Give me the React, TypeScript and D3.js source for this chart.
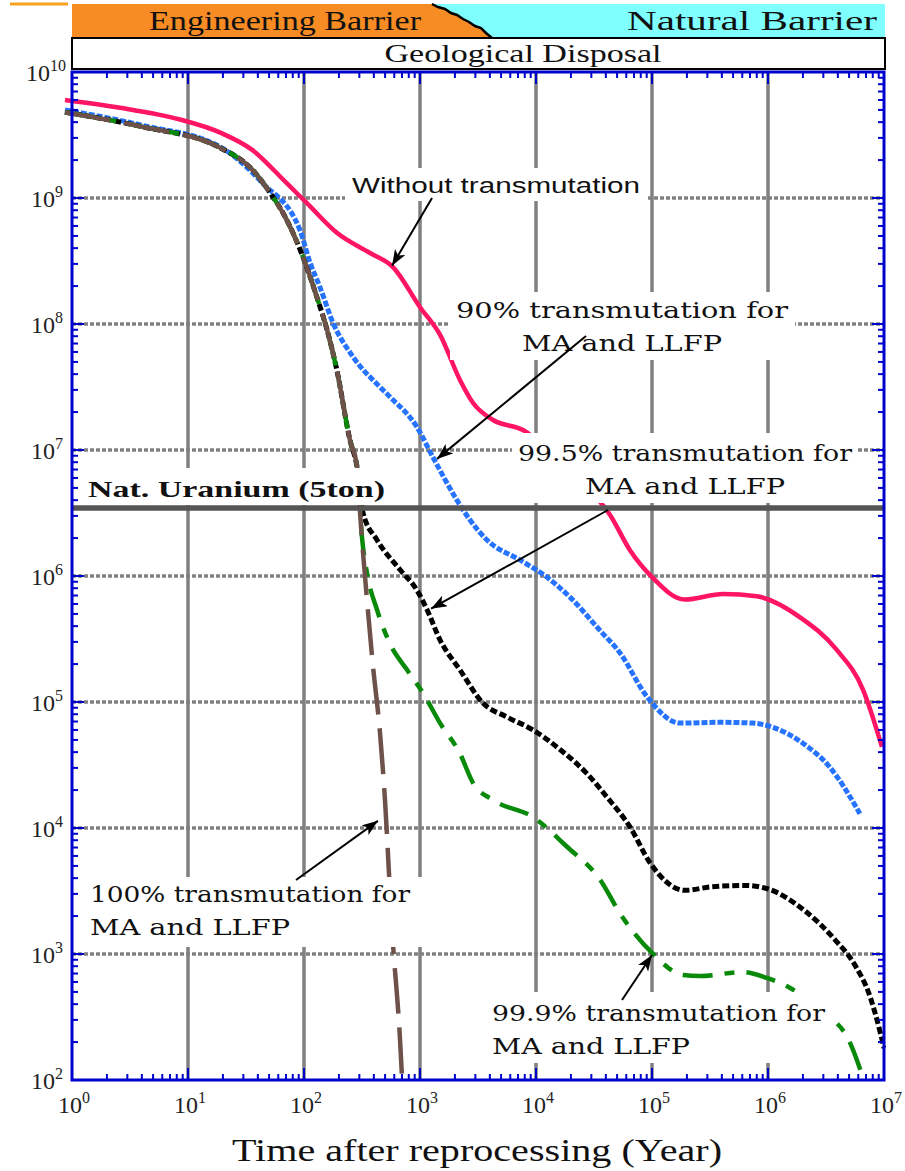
import * as d3 from "d3";

// time (year) decades on x, toxicity decades on y
const xDecades = [0, 1, 2, 3, 4, 5, 6, 7];
const yDecades = [2, 3, 4, 5, 6, 7, 8, 9, 10];

// Without transmutation
const redSeries = [
  [0.87, 6.0e9], [2.6, 5.2e9], [8.5, 4.2e9], [19, 3.3e9], [36, 2.4e9], [71, 1.31e9],
  [106, 9.1e8], [192, 5.3e8], [371, 3.66e8], [585, 2.83e8], [1000, 1.36e8], [1490, 8.2e7],
  [2210, 3.6e7], [2870, 2.36e7], [4260, 1.73e7], [7730, 1.44e7], [16100, 8.0e6],
  [29200, 4.8e6], [43500, 3.05e6], [64600, 1.6e6], [1.0e5, 9.8e5], [1.92e5, 6.5e5],
  [4.1e5, 7.2e5], [8.0e5, 6.9e5], [1.89e6, 4.7e5], [3.9e6, 2.6e5], [6.6e6, 1.25e5], [9.6e6, 4.4e4],
];

// 90% transmutation
const blueSeries = [
  [0.87, 5.0e9], [3.9, 3.8e9], [19, 2.54e9], [44, 1.31e9], [92, 5.6e8], [113, 3.05e8],
  [137, 1.97e8], [178, 1.02e8], [264, 5.5e7], [452, 3.16e7], [551, 2.64e7], [942, 1.52e7],
  [1290, 8.8e6], [2080, 4.0e6], [2700, 2.78e6], [3780, 1.93e6], [7280, 1.34e6], [12400, 9.8e5],
  [19600, 6.8e5], [35600, 3.7e5], [53000, 2.45e5], [90600, 1.1e5], [1.74e5, 6.8e4],
  [3.86e5, 6.9e4], [7.4e5, 6.8e4], [1.1e6, 6.3e4], [2.0e6, 4.7e4], [3.4e6, 3.05e4], [6.2e6, 1.3e4],
];

// common early decay of the 99.5 / 99.9 / 100 % cases
const earlyDecay = [
  [0.87, 4.8e9], [3.9, 3.7e9], [19, 2.5e9], [36, 1.67e9], [51, 1.1e9], [71, 6.7e8],
  [98, 3.4e8], [129, 1.64e8], [158, 9.0e7], [192, 4.3e7], [249, 1.2e7], [287, 7.3e6],
];

// 100% transmutation
const brownTail = [
  [304, 3.2e6], [349, 6.5e5], [394, 1.9e5], [452, 5.7e4], [499, 1.67e4], [574, 1.55e3],
  [673, 207], [700, 104],
];

// 99.9% transmutation
const greenTail = [
  [316, 2.04e6], [349, 1.06e6], [426, 5.4e5], [551, 2.9e5], [773, 1.8e5], [1060, 1.18e5],
  [1490, 6.8e4], [2210, 3.9e4], [2870, 2.27e4], [4260, 1.67e4], [9420, 1.22e4], [18500, 7.1e3],
  [35600, 3.9e3], [53000, 2.1e3], [1.0e5, 1.02e3], [1.85e5, 681], [2.6e5, 668], [6.1e5, 720],
  [9.8e5, 645], [1.55e6, 537], [2.8e6, 360], [5.1e6, 197], [6.6e6, 104],
];

// 99.5% transmutation
const blackTail = [
  [323, 3.16e6], [426, 1.93e6], [673, 1.12e6], [942, 7.7e5], [1150, 5.4e5], [1490, 3.1e5],
  [2210, 1.8e5], [3490, 9.8e4], [5620, 7.6e4], [9420, 6.0e4], [16100, 4.2e4], [27500, 2.7e4],
  [40900, 1.76e4], [64600, 1.02e4], [9.6e4, 5.3e3], [1.92e5, 3.2e3], [3.16e5, 3.4e3],
  [6.3e5, 3.5e3], [9.8e5, 3.3e3], [2.08e6, 2.2e3], [3.8e6, 1.29e3], [5.6e6, 820],
  [7.6e6, 456], [8.7e6, 300], [1.0e7, 180],
];

const natUranium = 3.47e6;

const serif = "'Liberation Serif', 'Times New Roman', serif";
const wideSerif = "'DejaVu Serif', serif";
const sans = "'Liberation Sans', Arial, sans-serif";

function Sup({ x, y, base, exp, anchor }: any) {
  return (
    <text x={x} y={y} textAnchor={anchor} fontFamily={serif} fontSize={24} fill="#222">
      {base}
      <tspan dy={-10} fontSize={16}>{exp}</tspan>
    </text>
  );
}

export default function App() {
  const W = 905;
  const H = 1171;
  const x = d3.scaleLog().domain([1, 1e7]).range([72, 884]);
  const y = d3.scaleLog().domain([1e2, 1e10]).range([1080, 72]);
  const [x0, x1] = x.range();
  const [y1, y0] = y.range();

  const line = d3
    .line<number[]>()
    .x((d) => x(d[0]))
    .y((d) => y(d[1]))
    .curve(d3.curveMonotoneX);

  const xMinor: number[] = [];
  xDecades.slice(0, -1).forEach((k) => d3.range(2, 10).forEach((m) => xMinor.push(m * 10 ** k)));
  const yMinor: number[] = [];
  yDecades.slice(0, -1).forEach((k) => d3.range(2, 10).forEach((m) => yMinor.push(m * 10 ** k)));

  const grey = "#808080";
  const axisBlue = "#0000cc";

  // annotation boxes (white background hides grid and curves)
  const notes = [
    {
      lines: ["Without transmutation"], font: sans, size: 22, anchor: "middle", tx: 496, ty: 193,
      lens: [288], box: [345, 168, 303, 33], from: [432, 198], to: [574, 2.9e8],
    },
    {
      lines: ["90% transmutation for", "MA and LLFP"], font: wideSerif, size: 23, anchor: "middle",
      tx: 622, ty: 318, lens: [332, 200], box: [450, 292, 345, 68], from: [586, 336], to: [1402, 8.5e6],
    },
    {
      lines: ["99.5% transmutation for", "MA and LLFP"], font: wideSerif, size: 23, anchor: "middle",
      tx: 685, ty: 461, lens: [334, 200], box: [512, 433, 346, 70], from: [608, 510], to: [1245, 5.5e5],
    },
    {
      lines: ["100% transmutation for", "MA and LLFP"], font: wideSerif, size: 23, anchor: "start",
      tx: 90, ty: 902, lens: [320, 200], box: [85, 877, 340, 70], from: [296, 880], to: [434, 1.14e4],
    },
    {
      lines: ["99.9% transmutation for", "MA and LLFP"], font: wideSerif, size: 23, anchor: "start",
      tx: 492, ty: 1021, lens: [333, 198], box: [486, 992, 345, 71], from: [622, 1000], to: [1.0e5, 982],
    },
  ];

  const jag = [
    [432, 4], [438, 7], [445, 9], [451, 13], [457, 15], [463, 19], [469, 22], [475, 26],
    [481, 28], [486, 33], [492, 38],
  ];

  return (
    <div style={{ position: "absolute", left: 0, top: 0 }}>
      <svg width={W} height={H} style={{ display: "block", background: "#fff" }}>
        <defs>
          <clipPath id="plot">
            <rect x={55} y={y0} width={x1 - 55 + 2} height={y1 - y0} />
          </clipPath>
          <marker id="arrow" viewBox="0 0 16 12" refX={16} refY={6} markerWidth={16} markerHeight={12}
            markerUnits="userSpaceOnUse" orient="auto">
            <path d="M0,0 L16,6 L0,12 L4,6 Z" fill="#000" />
          </marker>
        </defs>

        {/* header */}
        <line x1={10} x2={68} y1={4} y2={4} stroke="#f7a21e" strokeWidth={3} />
        <polygon
          points={[[72, 4], ...jag, [72, 38]].map((p) => p.join(",")).join(" ")}
          fill="#f88c24"
        />
        <polygon
          points={[...jag, [885, 38], [885, 4]].map((p) => p.join(",")).join(" ")}
          fill="#80ffff"
        />
        <polyline points={jag.map((p) => p.join(",")).join(" ")} fill="none" stroke="#000" strokeWidth={2.5} />
        <rect x={72} y={38} width={813} height={31} fill="#fff" stroke="#000" strokeWidth={2} />
        <text x={285} y={30} textAnchor="middle" fontFamily={serif} fontSize={27} textLength={272}
          lengthAdjust="spacingAndGlyphs" fill="#111">Engineering Barrier</text>
        <text x={752} y={30} textAnchor="middle" fontFamily={serif} fontSize={27} textLength={250}
          lengthAdjust="spacingAndGlyphs" fill="#111">Natural Barrier</text>
        <text x={523} y={62} textAnchor="middle" fontFamily={serif} fontSize={26} textLength={277}
          lengthAdjust="spacingAndGlyphs" fill="#111">Geological Disposal</text>

        {/* grid */}
        {yDecades.slice(1, -1).map((k) => (
          <line key={"gy" + k} x1={x0} x2={x1} y1={y(10 ** k)} y2={y(10 ** k)}
            stroke={grey} strokeWidth={3.5} strokeDasharray="4 2" />
        ))}
        {xDecades.slice(1, -1).map((k) => (
          <line key={"gx" + k} x1={x(10 ** k)} x2={x(10 ** k)} y1={y0} y2={y1}
            stroke={grey} strokeWidth={3.5} />
        ))}

        {/* curves */}
        <g clipPath="url(#plot)" fill="none" strokeLinejoin="round">
          <path d={line(blueSeries as any) || ""} stroke="#2673ff" strokeWidth={5} strokeDasharray="6 2" />
          <path d={line([...earlyDecay, ...blackTail] as any) || ""} stroke="#000" strokeWidth={5}
            strokeDasharray="7 3" />
          <path d={line([...earlyDecay, ...greenTail] as any) || ""} stroke="#0a8a0a" strokeWidth={4.5}
            strokeDasharray="30 12 10 12" />
          <path d={line([...earlyDecay, ...brownTail] as any) || ""} stroke="#6e5249" strokeWidth={4.5}
            strokeDasharray="46 14" />
          <path d={line(redSeries as any) || ""} stroke="#ff1466" strokeWidth={4.5} />
        </g>

        {/* annotation backgrounds */}
        {notes.map((n, i) => (
          <rect key={"bx" + i} x={n.box[0]} y={n.box[1]} width={n.box[2]} height={n.box[3]} fill="#fff" />
        ))}
        <rect x={76} y={468} width={312} height={37} fill="#fff" />

        {/* natural uranium reference */}
        <line x1={x0} x2={x1} y1={y(natUranium)} y2={y(natUranium)} stroke="#555" strokeWidth={5.5} />
        <text x={88} y={497} fontFamily={serif} fontWeight="bold" fontSize={24} textLength={297}
          lengthAdjust="spacingAndGlyphs" fill="#111">Nat. Uranium (5ton)</text>

        {/* frame and ticks */}
        <rect x={x0} y={y0} width={x1 - x0} height={y1 - y0} fill="none" stroke={axisBlue} strokeWidth={3} />
        <g stroke={axisBlue} strokeWidth={2}>
          {xDecades.map((k) => (
            <g key={"xt" + k}>
              <line x1={x(10 ** k)} x2={x(10 ** k)} y1={y0} y2={y0 + 12} />
              <line x1={x(10 ** k)} x2={x(10 ** k)} y1={y1} y2={y1 - 12} />
            </g>
          ))}
          {xMinor.map((v) => (
            <g key={"xm" + v}>
              <line x1={x(v)} x2={x(v)} y1={y0} y2={y0 + 6} />
              <line x1={x(v)} x2={x(v)} y1={y1} y2={y1 - 6} />
            </g>
          ))}
          {yDecades.map((k) => (
            <g key={"yt" + k}>
              <line x1={x0} x2={x0 + 12} y1={y(10 ** k)} y2={y(10 ** k)} />
              <line x1={x1} x2={x1 - 12} y1={y(10 ** k)} y2={y(10 ** k)} />
            </g>
          ))}
          {yMinor.map((v) => (
            <g key={"ym" + v}>
              <line x1={x0} x2={x0 + 6} y1={y(v)} y2={y(v)} />
              <line x1={x1} x2={x1 - 6} y1={y(v)} y2={y(v)} />
            </g>
          ))}
        </g>

        {/* tick labels */}
        {yDecades.map((k) => (
          <Sup key={"yl" + k} x={k === 10 ? 66 : 63} y={y(10 ** k) + 9} base="10" exp={k} anchor="end" />
        ))}
        {xDecades.map((k) => (
          <Sup key={"xl" + k} x={x(10 ** k) + 2} y={1113} base="10" exp={k} anchor="middle" />
        ))}
        <text x={477} y={1161} textAnchor="middle" fontFamily={serif} fontSize={32} textLength={490}
          lengthAdjust="spacingAndGlyphs" fill="#111">Time after reprocessing (Year)</text>

        {/* annotations */}
        {notes.map((n, i) => (
          <g key={"nt" + i}>
            {n.lines.map((t, j) => (
              <text key={j} x={n.tx} y={n.ty + j * 33} textAnchor={n.anchor as any} fontFamily={n.font}
                fontSize={n.size} textLength={n.lens[j]} lengthAdjust="spacingAndGlyphs" fill="#111">
                {t}
              </text>
            ))}
            <line x1={n.from[0]} y1={n.from[1]} x2={x(n.to[0])} y2={y(n.to[1])} stroke="#000"
              strokeWidth={2} markerEnd="url(#arrow)" />
          </g>
        ))}
      </svg>
    </div>
  );
}
